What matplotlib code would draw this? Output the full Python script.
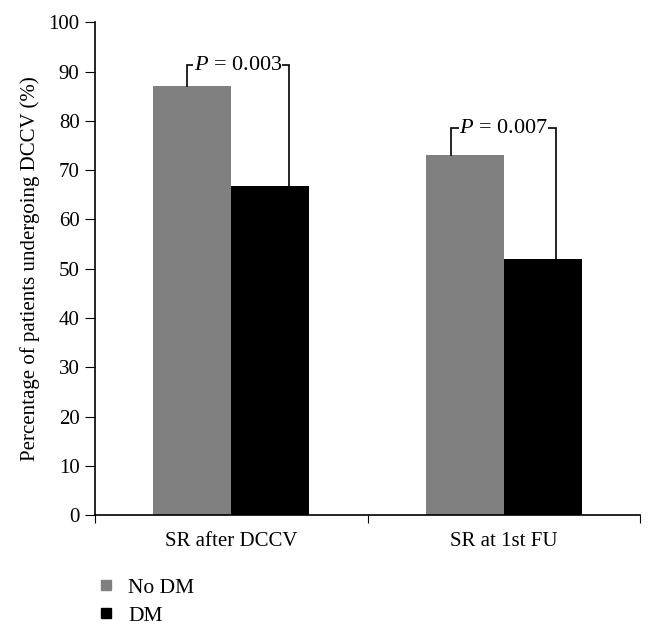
import matplotlib.pyplot as plt
from matplotlib.lines import Line2D
import numpy as np

categories = ["SR after DCCV", "SR at 1st FU"]
no_dm = [87, 73]
dm = [66.7, 52]
p_labels = ["0.003", "0.007"]
bracket_tops = [91.3, 78.5]

plt.rcParams["font.family"] = "Liberation Serif"
plt.rcParams["mathtext.fontset"] = "custom"
plt.rcParams["mathtext.it"] = "Liberation Serif:italic"
plt.rcParams["mathtext.rm"] = "Liberation Serif"

fig = plt.figure(figsize=(6.54, 6.36), dpi=100)
ax = fig.add_axes([0.145, 0.19, 0.834, 0.775])

x = np.arange(len(categories))
w = 0.286
ax.bar(x - w / 2, no_dm, w, color="#808080", label="No DM")
ax.bar(x + w / 2, dm, w, color="#000000", label="DM")

# bracket legs sit inside the bars, not at their centres
leg_frac = [(0.43, 0.74), (0.32, 0.67)]
for i in range(len(categories)):
    left_x = x[i] - w + leg_frac[i][0] * w
    right_x = x[i] + leg_frac[i][1] * w
    top = bracket_tops[i]
    ax.plot([left_x, left_x, right_x, right_x], [no_dm[i], top, top, dm[i]],
            color="black", lw=1.2, solid_joinstyle="miter")
    ax.text((left_x + right_x) / 2, top, "$P$ = " + p_labels[i], ha="center", va="center",
            fontsize=16, bbox=dict(facecolor="white", edgecolor="none", pad=0.3))

ax.set_xlim(-0.5, 1.5)
ax.set_ylim(0, 100)
ax.set_yticks(range(0, 101, 10))
ax.set_xticks([-0.5, 0.5, 1.5])
ax.set_xticklabels([])
ax.set_xticks(x, minor=True)
ax.set_xticklabels(categories, minor=True)
ax.tick_params(axis="x", which="minor", length=0, pad=12, labelsize=15)
ax.tick_params(axis="x", which="major", length=6, direction="out")
ax.tick_params(axis="y", labelsize=15, length=7, direction="out", pad=4)
for s in ["top", "right"]:
    ax.spines[s].set_visible(False)
ax.spines["left"].set_linewidth(1.2)
ax.spines["bottom"].set_linewidth(1.2)
ax.set_ylabel("Percentage of patients undergoing DCCV (%)", fontsize=15, labelpad=6)

handles = [Line2D([], [], marker="s", ls="none", color="#808080", markersize=7),
           Line2D([], [], marker="s", ls="none", color="#000000", markersize=7)]
fig.legend(handles, ["No DM", "DM"], loc="lower left", bbox_to_anchor=(0.12, -0.014),
           frameon=False, fontsize=15.5, handlelength=0.8, handletextpad=0.6,
           labelspacing=0.35)

fig.savefig("out.png", dpi=100)
